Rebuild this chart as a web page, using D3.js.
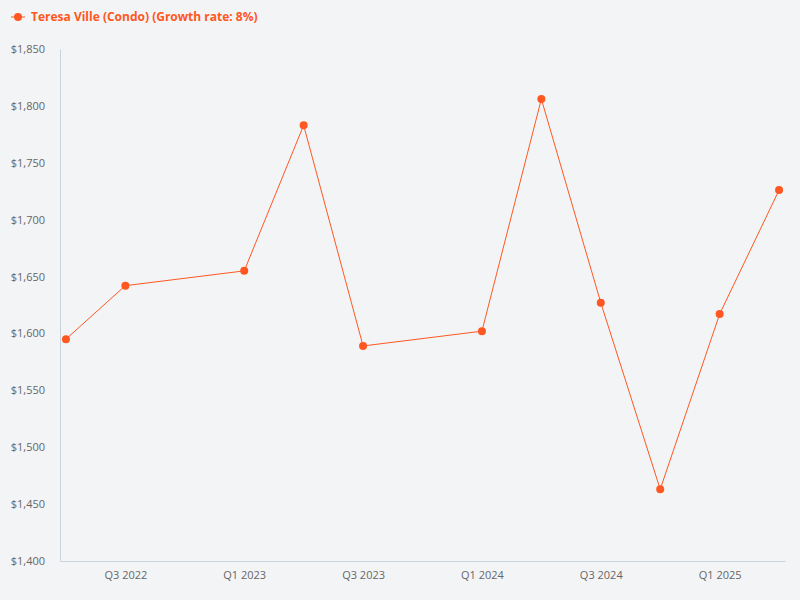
<!DOCTYPE html><html><head><meta charset="utf-8">
<script src="https://cdn.jsdelivr.net/npm/d3@7"></script>
<style>body{margin:0;background:#f3f4f6;}svg{display:block;font-family:"Open Sans",sans-serif;}</style>
</head><body><svg id="c" width="800" height="600"></svg>
<script>
const quarters=["Q2 2022","Q3 2022","Q4 2022","Q1 2023","Q2 2023","Q3 2023","Q4 2023","Q1 2024","Q2 2024","Q3 2024","Q4 2024","Q1 2025","Q2 2025"];
const dataQuarters=["Q2 2022","Q3 2022","Q1 2023","Q2 2023","Q3 2023","Q1 2024","Q2 2024","Q3 2024","Q4 2024","Q1 2025","Q2 2025"];
const values=[1595,1642,1655,1783,1589,1602,1806,1627,1463,1617,1726];
const tickLabels=["Q3 2022","Q1 2023","Q3 2023","Q1 2024","Q3 2024","Q1 2025"];
const yTicks=[1400,1450,1500,1550,1600,1650,1700,1750,1800,1850];
const seriesName="Teresa Ville (Condo) (Growth rate: 8%)";
const color="#ff5722";
const svg=d3.select("#c");
svg.append("rect").attr("width",800).attr("height",600).attr("fill","#f3f4f6");
const x=d3.scalePoint().domain(quarters).range([60,785]).padding(0.1);
const y=d3.scaleLinear().domain([1400,1850]).range([561,49]);
const xa=svg.append("g").attr("transform","translate(0,561)").call(d3.axisBottom(x).tickValues(tickLabels).tickSize(0).tickPadding(10));
xa.select(".domain").attr("stroke","#c8d3e0");
const ya=svg.append("g").attr("transform","translate(60,0)").call(d3.axisLeft(y).tickValues(yTicks).tickSize(0).tickPadding(15).tickFormat(d=>"$"+d3.format(",")(d)));
ya.select(".domain").attr("stroke","#c8d3e0");
svg.selectAll(".tick text").attr("fill","#666").attr("font-size",11).attr("font-family","Open Sans");
ya.selectAll(".tick text").attr("x",-15).attr("text-anchor","end");
const pts=dataQuarters.map((q,i)=>[x(q),y(values[i])]);
svg.append("path").attr("d",d3.line()(pts)).attr("fill","none").attr("stroke",color).attr("stroke-width",1);
svg.selectAll("circle.p").data(pts).enter().append("circle").attr("cx",d=>d[0]).attr("cy",d=>d[1]).attr("r",4).attr("fill",color);
const lg=svg.append("g");
lg.append("line").attr("x1",11).attr("x2",25).attr("y1",17).attr("y2",17).attr("stroke",color).attr("stroke-width",1);
lg.append("circle").attr("cx",18).attr("cy",17).attr("r",4).attr("fill",color);
lg.append("text").attr("x",31).attr("y",21).text(seriesName).attr("fill",color).attr("font-weight","bold").attr("font-size",12);
</script></body></html>
